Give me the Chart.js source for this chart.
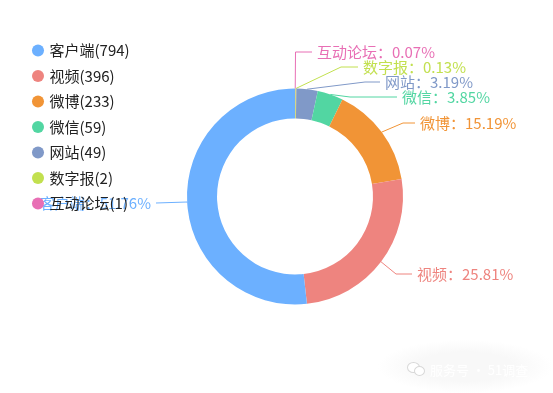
<!DOCTYPE html>
<html>
<head>
<meta charset="utf-8">
<script src="https://cdn.jsdelivr.net/npm/chart.js@4"></script>
<style>
  html, body { margin: 0; padding: 0; background: #fff; }
  #wrap { position: relative; width: 553px; height: 393px; overflow: hidden; }
  #mark {
    position: absolute; left: 378px; top: 340px; width: 175px; height: 53px;
    background: radial-gradient(closest-side, #f8f8f8 55%, #ffffff 100%);
    font: 13px "Noto Sans CJK SC"; color: #fff; line-height: 60px; padding-left: 52px;
    box-sizing: border-box; white-space: nowrap;
  }
  .bubble { position: absolute; border-radius: 50%; background: #fff; border: 1px solid #d8d8d8; box-sizing: border-box; }
</style>
</head>
<body>
<div id="wrap">
  <canvas id="chart" width="553" height="393"></canvas>
  <div id="mark">服务号 · 51调查<span class="bubble" style="left:29px;top:22px;width:13px;height:11px"></span><span class="bubble" style="left:36px;top:26px;width:11px;height:10px"></span></div>
</div>
<script>
const categories = ["客户端", "视频", "微博", "微信", "网站", "数字报", "互动论坛"];
const counts = [794, 396, 233, 59, 49, 2, 1];
const percents = ["51.76", "25.81", "15.19", "3.85", "3.19", "0.13", "0.07"];
const colors = ["#6cb0ff", "#ee847f", "#f19436", "#52d6a2", "#8099c8", "#c2e04f", "#e86fb5"];

const fontFamily = '"Noto Sans CJK SC", "Noto Sans", sans-serif';

// knee and end of each leader line, same order as categories
const labelLayout = [
  { knee: [187, 202], end: [156, 203] },
  { knee: [396, 274], end: [412, 274] },
  { knee: [403, 123], end: [415, 123] },
  { knee: [350, 97], end: [397, 97] },
  { knee: [365, 82], end: [380, 82] },
  { knee: [341, 67], end: [358, 67] },
  { knee: [295.5, 52], end: [312, 52] },
];

// chart runs clockwise from the smallest slice, legend runs the other way
const order = categories.map((_, i) => categories.length - 1 - i);

// drawn before the layers so the legend text ends up above the labels
const sliceLabels = {
  id: "sliceLabels",
  beforeDraw(chart) {
    const ctx = chart.ctx;
    const arcs = chart.getDatasetMeta(0).data;
    ctx.save();
    ctx.font = "15px " + fontFamily;
    ctx.textBaseline = "middle";
    ctx.lineWidth = 1;
    arcs.forEach((arc, idx) => {
      const i = order[idx];
      const mid = (arc.startAngle + arc.endAngle) / 2;
      const ax = arc.x + Math.cos(mid) * arc.outerRadius;
      const ay = arc.y + Math.sin(mid) * arc.outerRadius;
      const { knee, end } = labelLayout[i];
      ctx.strokeStyle = colors[i];
      ctx.fillStyle = colors[i];
      ctx.beginPath();
      ctx.moveTo(ax, ay);
      ctx.lineTo(knee[0], knee[1]);
      ctx.lineTo(end[0], end[1]);
      ctx.stroke();
      const text = categories[i] + "：" + percents[i] + "%";
      if (end[0] < knee[0]) {
        ctx.textAlign = "right";
        ctx.fillText(text, end[0] - 5, end[1]);
      } else {
        ctx.textAlign = "left";
        ctx.fillText(text, end[0] + 5, end[1]);
      }
    });
    ctx.restore();
  },
};

const moveLegend = {
  id: "moveLegend",
  afterLayout(chart) {
    chart.legend.left = 23.5;
    chart.legend.top = 32.5;
  },
};

new Chart(document.getElementById("chart").getContext("2d"), {
  type: "doughnut",
  data: {
    labels: order.map((i) => categories[i] + "(" + counts[i] + ")"),
    datasets: [
      {
        data: order.map((i) => counts[i]),
        backgroundColor: order.map((i) => colors[i]),
        borderWidth: 0,
      },
    ],
  },
  options: {
    responsive: false,
    animation: false,
    radius: 108,
    cutout: "72.2%",
    layout: { padding: { left: 37, top: 0, right: 0, bottom: 0 } },
    plugins: {
      tooltip: { enabled: false },
      legend: {
        position: "chartArea",
        align: "start",
        reverse: true,
        labels: {
          usePointStyle: true,
          pointStyle: "circle",
          boxWidth: 8,
          boxHeight: 8.5,
          padding: 10.5,
          color: "#222",
          font: { family: fontFamily, size: 15 },
        },
      },
    },
  },
  plugins: [sliceLabels, moveLegend],
});
</script>
</body>
</html>
